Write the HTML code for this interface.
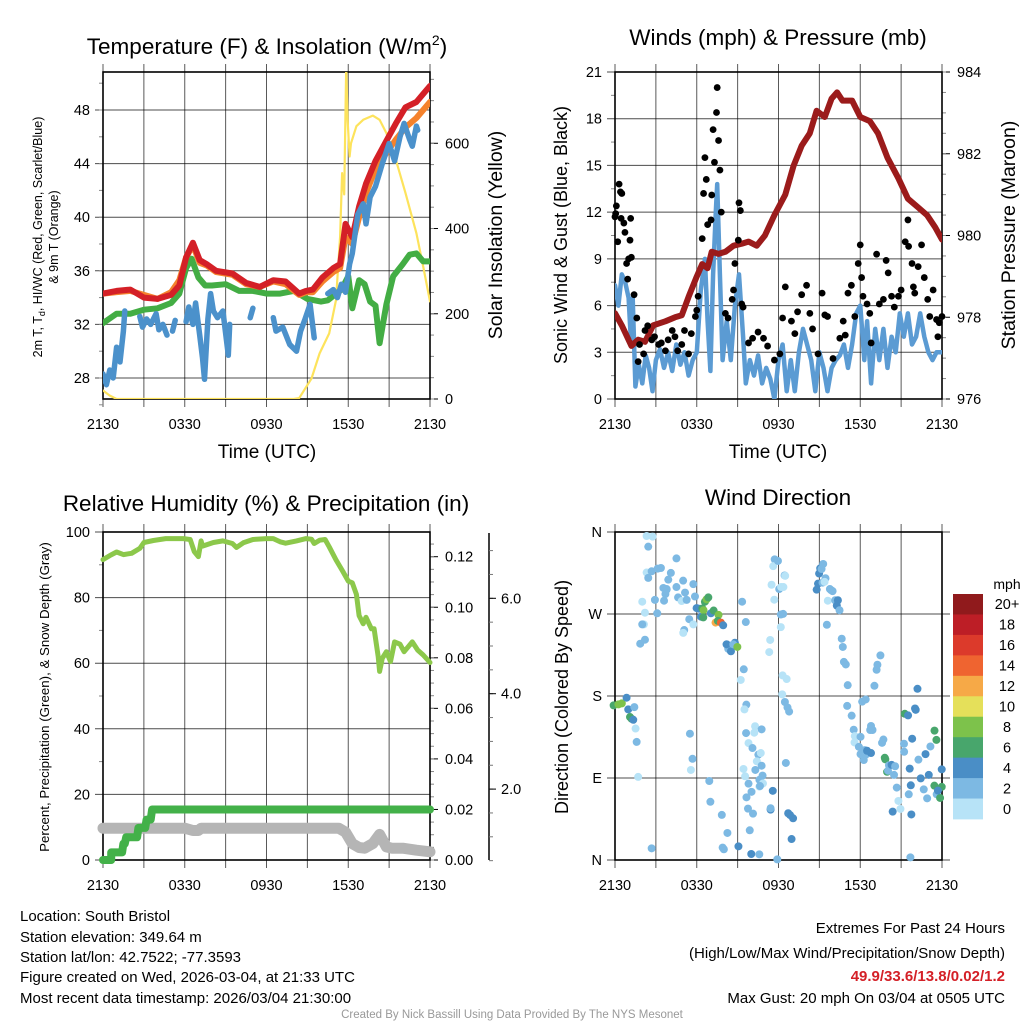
<!DOCTYPE html>
<html><head><meta charset="utf-8"><title>Mesonet Station Chart</title>
<style>
html,body{margin:0;padding:0;background:#fff;}
svg{display:block;font-family:"Liberation Sans",Arial,sans-serif;}
</style></head>
<body>
<svg id="chart" width="1024" height="1024" viewBox="0 0 1024 1024" xmlns="http://www.w3.org/2000/svg">
<rect width="1024" height="1024" fill="#fff"/>
<text x="267" y="54" font-size="22.5" text-anchor="middle">Temperature (F) &amp; Insolation (W/m<tspan dy="-9" font-size="14">2</tspan><tspan dy="9">)</tspan></text>
<text x="778" y="45" font-size="22.5" text-anchor="middle">Winds (mph) &amp; Pressure (mb)</text>
<text x="266" y="511" font-size="22.5" text-anchor="middle">Relative Humidity (%) &amp; Precipitation (in)</text>
<text x="778" y="505" font-size="22.5" text-anchor="middle">Wind Direction</text>
<text x="267" y="458" font-size="19" text-anchor="middle">Time (UTC)</text>
<text x="778" y="458" font-size="19" text-anchor="middle">Time (UTC)</text>
<text transform="translate(42,237) rotate(-90)" font-size="12.5" text-anchor="middle">2m T, T<tspan font-size="9" dy="3">d</tspan><tspan dy="-3">, HI/WC (Red, Green, Scarlet/Blue)</tspan></text>
<text transform="translate(58,237) rotate(-90)" font-size="12.5" text-anchor="middle">&amp; 9m T (Orange)</text>
<text transform="translate(502,235) rotate(-90)" font-size="19.5" text-anchor="middle">Solar Insolation (Yellow)</text>
<text transform="translate(567,235) rotate(-90)" font-size="18" text-anchor="middle">Sonic Wind &amp; Gust (Blue, Black)</text>
<text transform="translate(1015,235) rotate(-90)" font-size="19.5" text-anchor="middle">Station Pressure (Maroon)</text>
<text transform="translate(49,697) rotate(-90)" font-size="13.3" text-anchor="middle">Percent, Precipitation (Green), &amp; Snow Depth (Gray)</text>
<text transform="translate(568,697) rotate(-90)" font-size="18" text-anchor="middle">Direction (Colored By Speed)</text>
<text x="1007" y="589" font-size="14" text-anchor="middle">mph</text>
<g font-size="15">
<text x="20" y="921">Location: South Bristol</text>
<text x="20" y="942">Station elevation: 349.64 m</text>
<text x="20" y="962">Station lat/lon: 42.7522; -77.3593</text>
<text x="20" y="982">Figure created on Wed, 2026-03-04, at 21:33 UTC</text>
<text x="20" y="1003">Most recent data timestamp: 2026/03/04 21:30:00</text>
</g>
<g font-size="15" text-anchor="end">
<text x="1005" y="933">Extremes For Past 24 Hours</text>
<text x="1005" y="958">(High/Low/Max Wind/Precipitation/Snow Depth)</text>
<text x="1005" y="981" fill="#d42027" font-weight="bold">49.9/33.6/13.8/0.02/1.2</text>
<text x="1005" y="1003">Max Gust: 20 mph On 03/04 at 0505 UTC</text>
</g>
<text x="512" y="1018" font-size="11.5" fill="#999" text-anchor="middle">Created By Nick Bassill Using Data Provided By The NYS Mesonet</text>
<g id="layer"></g>
</svg>
<script>
// ---- data ----
const timeTickLabels = ["2130","0330","0930","1530","2130"];
const tempTicks = [28,32,36,40,44,48];
const solarTicks = [0,200,400,600];
const windTicks = [0,3,6,9,12,15,18,21];
const pressTicks = [976,978,980,982,984];
const rhTicks = [0,20,40,60,80,100];
const precipTicks = [0,0.02,0.04,0.06,0.08,0.10,0.12];
const precipTickLabels = ["0.00","0.02","0.04","0.06","0.08","0.10","0.12"];
const snowTicks = [2,4,6];
const snowTickLabels = ["2.0","4.0","6.0"];
const dirTicks = [0,90,180,270,360];
const dirTickLabels = ["N","E","S","W","N"];
const speedBins = [0,2,4,6,8,10,12,14,16,18,20];
const speedBinLabels = ["0","2","4","6","8","10","12","14","16","18","20+"];
const speedColors = ["#b7e3f7","#7db9e3","#4a8ec6","#48a66c","#7dc24b","#e5e05a","#f6a947","#ef6430","#dc3a2b","#bd1e26","#901a1c"];

const tempHours = [0,1,2,3,4,5,5.6,6.1,6.6,7.1,7.6,8.3,9.5,10.5,11.5,12.5,13.4,14.4,14.9,15.4,16.1,16.9,17.4,17.8,18.3,18.8,19.3,20,20.8,21.5,22.2,23,23.5,24];
const temp2m = [34.3,34.5,34.6,34.0,33.9,34.2,34.9,37.0,38.1,36.8,36.5,36.0,35.8,35.1,34.8,35.3,35.2,34.3,34.5,34.6,35.5,36.2,36.5,39.5,38.5,40.8,42.5,44.2,45.7,47.0,48.2,48.6,49.2,49.8];
const temp9m = [34.3,34.4,34.5,34.2,33.9,34.4,35.3,37.0,37.9,36.6,36.4,35.9,35.7,35.0,34.8,35.2,35.0,34.2,34.4,34.4,35.2,35.9,36.2,38.5,38.0,40.0,41.8,43.6,44.8,45.8,46.7,47.4,48.0,48.6];
const hiwcHours = [0,1,2,3,4,5,5.6,6.1,6.5,7,7.5,8,9,10,11,12,13,14,15,16,16.5,17,17.5,18,18.3,18.8,19.2,19.6,20,20.3,20.8,21.3,22,22.5,23,23.5,24];
const hiwc = [32.1,32.8,32.8,33.1,33.2,33.6,34.3,36.2,36.9,35.5,34.9,34.9,35.0,34.5,34.5,34.3,34.3,34.5,33.9,33.7,33.8,34.2,34.6,35.6,33.2,35.3,35.0,33.7,33.4,30.6,33.5,35.6,36.5,37.2,37.3,36.7,36.7];
const dewHours = [0,0.25,0.5,0.75,1,1.25,1.5,1.6,2.0,2.7,2.9,3.2,3.5,3.9,4.1,4.4,4.7,4.8,5.1,5.3,5.6,6.1,6.3,6.6,6.8,7.1,7.3,7.45,7.7,7.9,8.1,8.4,8.8,9.2,9.3,9.5,10.8,11.0,11.2,12.5,12.7,13.2,13.7,14.2,14.5,14.8,15.2,15.5,15.7,16.5,16.9,17.2,17.5,17.8,18.1,18.3,18.7,19.1,19.3,19.6,20,20.5,21,21.4,21.8,22.1,22.5,22.7,23.0,23.1];
const dewPoint = [28.3,27.5,28.6,28.0,30.3,29.2,31.5,33.0,null,32.6,31.8,32.4,32.0,32.8,31.6,32.0,31.2,null,31.5,32.3,null,32.2,33.3,32.0,33.6,31.2,29.5,27.9,32.4,34.3,33.0,32.5,33.0,29.7,32.0,null,32.5,33.2,null,32.5,31.5,31.8,30.5,30.0,31.5,32.3,33.5,31.0,null,34.3,34.6,34.0,35.0,34.4,36.5,37.3,40.2,41.0,39.5,41.5,42.3,44.0,45.5,44.2,46.0,47.0,45.8,45.3,46.8,46.5];
const solarHours = [0,0.5,1,2,6,10,14,14.4,15.3,15.9,16.6,17.1,17.4,17.55,17.7,17.85,17.95,18.1,18.2,18.6,19.1,19.8,20.3,20.8,21.5,22.2,23,23.5,24];
const solar = [20,8,0,0,0,0,0,2,48,107,154,232,381,530,480,780,655,569,600,640,655,665,655,624,561,483,389,311,229];

const pressHours = [0,0.5,1.2,1.7,2.2,2.8,3.7,4.4,4.9,5.4,6,6.4,6.8,7.1,7.6,8.1,8.7,9.3,9.8,10.4,11,11.7,12.5,13.1,13.7,14.3,14.8,15.4,15.9,16.3,16.7,17.4,18,18.7,19.3,20,20.8,21.5,22.2,22.9,23.5,24];
const pressure = [978.1,977.8,977.3,977.45,977.4,977.8,977.9,978.0,978.05,978.5,979.0,979.3,979.2,979.6,979.55,979.6,979.75,979.8,979.85,979.75,980.0,980.5,981.0,981.7,982.2,982.5,983.05,982.9,983.35,983.5,983.3,983.3,982.9,982.8,982.5,981.9,981.4,980.9,980.7,980.5,980.2,979.9];
const windHours = [0,0.25,0.5,0.75,1,1.15,1.3,1.5,1.75,2,2.25,2.5,2.75,3,3.3,3.6,3.9,4.2,4.5,4.8,5.1,5.4,5.7,6,6.3,6.6,6.8,7,7.2,7.4,7.5,7.7,7.9,8.2,8.5,8.8,9.1,9.4,9.6,9.9,10.2,10.5,10.8,11.1,11.4,11.7,12,12.3,12.6,12.9,13.2,13.5,13.8,14.1,14.4,14.7,15,15.3,15.6,15.9,16.2,16.5,16.8,17.1,17.4,17.7,18,18.3,18.5,18.8,19.1,19.4,19.7,20,20.3,20.6,20.9,21.2,21.5,21.8,22.1,22.4,22.7,23,23.3,23.6,24];
const windSpeed = [7.3,6,8,7.5,6.5,4,6.5,0.8,2.2,1.0,2.8,2.0,0.5,2.5,3.2,2.0,3.0,1.8,3.5,2.2,3.0,1.5,2.5,3,7,9,5,1.8,8,12,13.8,8,2.5,5,2.5,6,8,4,1,2.5,1.5,2.8,1,2,1.3,0,2.5,3.5,0.5,2.5,0.5,3,4.5,3.5,2.5,0.5,3,2,0.5,2,2.5,2.8,3.5,2,3.5,5.5,6,2.5,5,1,4.5,2.5,4.5,2,4,3,5.5,4,5.5,3.5,4,5.5,4,3,2.5,3,3];
const gustHours = [0,0.05,0.1,0.2,0.3,0.4,0.5,0.45,0.65,0.73,1.1,1.15,1.0,0.85,0.93,1.2,1.4,1.6,1.7,1.8,2.1,2.2,2.4,2.7,2.9,3.2,3.4,3.7,3.9,4.2,4.4,4.6,4.9,5.1,5.4,5.6,5.9,6,6.1,6.4,6.5,6.6,6.7,6.8,7.05,7.1,7.2,7.3,7.45,7.5,7.6,7.7,7.8,8.1,8.3,8.6,8.7,8.8,9.05,9.1,9.2,9.3,9.4,9.8,10.1,10.5,10.9,11.2,11.7,12.1,12.3,12.5,12.95,13.2,13.4,13.7,14.06,14.3,14.5,14.9,15.2,15.4,15.6,16,16.5,16.75,16.9,17.1,17.35,17.6,17.85,18,18.1,18.2,18.5,18.7,18.8,19.2,19.4,19.7,19.9,20.05,20.3,20.5,20.8,21,21.3,21.5,21.55,21.8,21.9,22,22.25,22.5,22.7,22.95,23.1,23.35,23.6,23.7,23.8,24];
const gust = [11.7,11.9,12.4,10.1,13.8,13.3,13.2,11.6,11.3,10.7,10.2,11.6,9.0,8.7,7.7,9.1,6.7,5.2,2.4,3.5,2.9,4.4,4.7,3.8,4.0,3.5,3.6,3.1,3.8,4.4,4.0,3.1,3.5,4.4,2.9,4.2,5.3,5.7,6.6,10.3,13.2,15.5,14.1,11.2,11.5,13.1,17.3,15.2,18.4,20.0,16.6,14.7,12.0,5.5,5.2,6.4,7.0,8.7,10.2,12.6,12.1,6.1,5.9,3.6,3.9,4.3,3.9,3.4,2.5,2.9,5.2,7.2,5.0,4.2,5.6,6.7,7.3,5.5,4.5,2.9,6.8,5.4,5.3,2.6,3.9,5.0,4.1,6.8,7.3,5.3,8.7,9.9,7.8,6.6,6.1,5.5,3.6,9.3,6.1,6.4,8.9,8.1,6.6,5.9,6.6,7.0,10.1,11.5,9.8,8.7,7.2,6.8,8.5,9.9,7.8,6.4,5.3,7.0,5.1,4.0,4.9,5.3];

const rhHours = [0,0.5,1,1.5,2.1,2.7,3,3.7,4.6,5.9,6.4,6.7,7,7.2,7.3,8.1,8.8,9.5,9.8,10.3,11,12,12.5,13,13.4,14.2,14.9,15.3,15.5,15.9,16.3,16.6,17.1,17.6,18,18.3,18.6,18.8,19.1,19.3,19.7,19.9,20.2,20.3,20.5,20.8,21.1,21.4,21.8,22.1,22.4,22.7,23.1,23.5,24];
const rh = [91.6,92.8,93.9,93.1,93.5,95,96.8,97.4,98,98,97.7,94,92.5,97.3,95.7,96.8,97.3,96.5,95.3,96.7,97.7,98,98,97,96.6,97.3,98,97.8,96.5,97.5,97.7,95.5,91.5,88,85,84.5,81,74.5,72,74,70.5,70.5,62,57.5,61.5,63.5,60.5,66.5,65.8,63.5,65,66.5,64,62.5,60.2];
const precipHours = [0,0.6,0.6,1.4,1.5,1.6,1.7,2.5,2.6,3.1,3.2,3.5,3.6,24];
const precip = [0,0,0.003,0.003,0.0065,0.0065,0.009,0.009,0.0127,0.0127,0.016,0.016,0.02,0.02];
const snowHours = [0,6,6.6,7,7.2,17.3,17.8,18.3,18.8,19.2,19.8,20.3,20.8,21.2,22,23,24];
const snowPct = [9.7,9.7,9.0,9.0,9.7,9.7,8.5,5.0,3.8,3.6,5.0,7.8,4.0,3.6,3.6,3.0,2.5];

// wind direction points: hour, degrees, speed (mph)
const dirHours = [-0.1,0.25,0.5,0.85,0.97,1.1,1.22,1.34,1.42,1.7,1.51,1.59,2.69,2.32,2.44,2.76,2.32,2.44,2.69,3.13,3.37,2.0,2.2,2.12,2.93,3.1,3.55,3.79,3.91,4.1,3.79,4.51,4.63,4.51,3.6,3.7,4.89,5.0,5.14,5.26,5.75,5.87,2.0,2.2,1.85,5.08,5.01,5.45,5.75,5.99,6.17,6.31,6.41,6.5,6.48,6.6,6.72,6.85,7.04,7.24,7.38,7.6,7.55,7.77,7.94,8.2,8.31,8.5,8.19,8.51,8.8,8.68,8.98,5.5,5.69,5.57,6.92,7.0,7.84,7.9,7.99,8.25,9.06,10.0,9.33,9.6,9.45,9.23,9.64,9.5,9.62,9.8,10.3,9.43,9.55,9.8,9.65,9.76,10.13,9.89,10.59,10.28,10.22,10.76,10.09,10.52,10.41,10.7,10.76,10.83,10.6,10.02,10.6,10.86,10.64,11.42,11.58,11.42,11.91,11.72,11.61,12.45,11.96,12.05,12.49,12.19,12.36,11.49,11.69,12.17,12.34,12.17,11.39,11.32,12.3,12.6,12.27,12.47,12.66,12.78,12.54,12.71,12.85,12.96,13.07,14.8,14.9,14.98,15.06,15.16,15.28,15.23,15.45,15.38,15.62,15.55,15.77,15.86,15.97,16.16,16.36,16.28,16.48,16.64,16.72,16.8,16.94,17.08,17.04,17.37,17.52,17.6,17.58,17.9,18.02,18.14,18.02,18.33,18.26,18.41,18.5,18.79,18.9,18.73,18.79,18.4,19.04,19.2,19.26,19.48,19.7,19.6,19.8,19.84,19.97,20.04,20.11,20.3,20.38,20.48,20.56,20.68,20.8,20.95,21.22,21.21,21.27,21.51,21.63,21.71,21.56,21.75,21.68,21.81,22.02,22.07,22.2,22.27,22.44,22.66,22.91,23.03,22.79,23.15,23.45,23.59,23.44,23.61,23.86,23.98,23.7,23.98];
const dirDeg = [169.7,170.8,171.9,178.1,165.3,156.9,155.0,153.9,167.8,91.2,144.3,129.6,12.8,355.6,343.9,354.9,315.5,309.6,316.9,319.8,320.5,283.5,271.4,258.6,285.5,270.8,298.6,296.7,307.7,315.1,297.4,299.6,288.2,331.0,284.6,291.9,284.2,306.6,293.5,285.5,302.8,289.2,258.6,241.8,237.4,252.4,249.3,264.3,258.6,276.5,275.8,267.0,276.1,274.1,266.3,283.5,286.1,288.2,270.8,273.8,260.6,269.0,262.4,260.6,257.6,236.7,231.8,229.3,236.7,229.1,238.5,236.7,233.8,138.6,111.1,98.8,86.7,63.9,49.5,13.6,11.8,29.7,15.0,6.6,283.5,261.2,209.3,197.6,170.5,165.3,139.3,128.3,98.8,99.9,91.9,83.8,68.8,56.4,50.9,32.6,6.2,146.8,139.7,143.4,122.9,115.6,108.3,117.4,103.5,92.6,80.6,74.8,88.0,84.0,81.2,55.3,75.9,56.8,0.7,330.0,322.5,312.3,328.2,297.4,311.9,299.6,299.6,302.1,285.7,269.4,270.1,255.6,241.5,228.2,202.6,198.6,181.8,173.4,167.4,162.9,106.5,51.3,49.3,23.0,45.8,296.7,303.3,314.4,320.1,319.4,324.9,304.4,309.3,305.3,284.6,258.2,297.4,296.2,295.1,285.1,285.1,279.2,274.1,242.9,233.8,217.4,214.6,191.9,169.1,158.4,143.0,136.0,129.0,124.2,116.2,173.8,135.2,120.6,109.7,115.6,119.9,117.4,142.7,142.7,147.1,176.2,191.2,208.8,214.3,224.6,132.2,128.6,112.2,110.5,96.8,98.0,103.9,104.4,53.1,93.4,102.9,79.5,64.8,56.0,118.8,127.6,160.5,158.7,100.3,82.0,72.1,50.0,2.9,133.1,166.3,164.8,187.9,110.1,89.6,77.5,67.7,93.4,116.2,124.6,142.0,131.8,81.6,72.1,68.1,80.3,76.2,99.5,79.8,62.6,93.4,92.2,96.8,90.1,90.1,91.9,86.3,81.2,84.3,89.2,79.8,80.6,73.6,84.0,89.6,91.2,86.7,102.9,133.1,126.9];
const dirSpeed = [7,9,9,5,5,7,7,5,3,1,1,3,3,1,3,1,1,3,3,3,3,1,1,1,3,3,3,3,3,3,3,3,3,3,3,3,1,3,3,3,3,3,3,3,3,3,1,3,1,5,5,5,7,9,7,7,9,7,5,7,13,9,7,15,5,5,3,3,5,5,5,3,9,3,3,1,3,3,3,3,3,3,5,5,3,3,3,1,3,1,3,1,3,1,1,3,3,3,3,3,3,1,1,3,3,3,1,1,3,3,1,3,3,1,3,5,5,3,3,3,1,3,3,3,1,1,1,1,1,3,3,1,1,1,1,1,1,3,3,3,3,5,5,5,5,5,5,5,5,3,3,3,3,1,1,3,3,3,3,3,5,5,3,3,3,3,3,3,3,3,3,1,1,3,3,3,3,3,3,3,5,5,3,3,3,3,3,3,3,3,3,3,7,7,7,3,3,5,5,3,3,3,1,1,3,3,7,5,5,5,3,5,3,5,5,5,5,3,5,3,3,5,5,3,7,7,7,3,7,7,5,5,5,5,5,5,5,5,7,5,5,7,3,5,3,3,3,3,3,3,3];

// ---- geometry ----
const NS = "http://www.w3.org/2000/svg";
const layer = document.getElementById("layer");
function el(tag, attrs, parent) {
  const e = document.createElementNS(NS, tag);
  for (const k in attrs) e.setAttribute(k, attrs[k]);
  (parent || layer).appendChild(e);
  return e;
}
const P1 = {x0:103, x1:430, y0:72, y1:399};
const P2 = {x0:615, x1:942, y0:72, y1:399};
const P3 = {x0:103, x1:430, y0:532, y1:860};
const P4 = {x0:615, x1:942, y0:532, y1:860};
function xT(p, h) { return p.x0 + h / 24 * (p.x1 - p.x0); }
const yTemp = v => 378 - (v - 28) * 13.4;
const ySolar = w => 399 - w * 0.4262;
const yWind = v => 399 - v * 327 / 21;
const yPress = v => 399 - (v - 976) * 327 / 8;
const yRH = v => 860 - v * 3.28;
const yPrecip = v => 860 - v * 303.3 / 0.12;
const ySnow = v => 884.5 - v * 47.7;
const yDir = d => 860 - d / 360 * 328;

function clipFor(p, id) {
  const defs = el("defs", {});
  const cp = el("clipPath", {id: id}, defs);
  el("rect", {x: p.x0, y: p.y0, width: p.x1 - p.x0, height: p.y1 - p.y0}, cp);
}

function frame(p, name, leftTicks, leftFn, leftLabels, rightTicks, rightFn, rightLabels, minorL, minorR, gridExt) {
  const g = el("g", {});
  
  
  for (let h = 0; h <= 24; h += 3) {
    const x = xT(p, h);
    const gl = el("line", {x1: x, x2: x, y1: p.y0 - 8, y2: p.y1 + 8, stroke: "#000", "stroke-width": 1, "stroke-opacity": 0.65}, g);
    
    
  }
  timeTickLabels.forEach((lab, i) => {
    const t = el("text", {x: xT(p, i * 6), y: p.y1 + 30, "font-size": 14.5, "text-anchor": "middle"}, g);
    t.textContent = lab;
    
    
  });
  leftTicks.forEach((v, i) => {
    const y = leftFn(v);
    const gl = el("line", {x1: p.x0 - 8, x2: p.x1 + (gridExt || 0), y1: y, y2: y, stroke: "#000", "stroke-width": 1, "stroke-opacity": 0.7}, g);
    
    
    const t = el("text", {x: p.x0 - 13, y: y + 5, "font-size": 14.5, "text-anchor": "end"}, g);
    t.textContent = leftLabels[i];
    
    
  });
  (minorL || []).forEach(v => {
    const y = leftFn(v);
    el("line", {x1: p.x0 - 4, x2: p.x0, y1: y, y2: y, stroke: "#888", "stroke-width": 1}, g);
  });
  if (rightTicks) {
    rightTicks.forEach((v, i) => {
      const y = rightFn(v);
      el("line", {x1: p.x1, x2: p.x1 + 8, y1: y, y2: y, stroke: "#000", "stroke-width": 1}, g);
      const t = el("text", {x: p.x1 + 15, y: y + 5, "font-size": 14.5}, g);
      t.textContent = rightLabels[i];
      
      
    });
    (minorR || []).forEach(v => {
      const y = rightFn(v);
      el("line", {x1: p.x1, x2: p.x1 + 4, y1: y, y2: y, stroke: "#888", "stroke-width": 1}, g);
    });
  }
  const fr = el("rect", {x: p.x0, y: p.y0, width: p.x1 - p.x0, height: p.y1 - p.y0, fill: "none", stroke: "#000", "stroke-width": 1.6}, g);
  
  
}

function seq(a, b, s) { const r = []; for (let v = a; v <= b + 1e-9; v += s) r.push(+v.toFixed(4)); return r; }

function linePath(hours, vals, p, yFn) {
  let d = "", pen = false;
  for (let i = 0; i < hours.length; i++) {
    if (vals[i] === null) { pen = false; continue; }
    d += (pen ? "L" : "M") + xT(p, hours[i]).toFixed(1) + "," + yFn(vals[i]).toFixed(1);
    pen = true;
  }
  return d;
}

// ---- Panel 1 ----
clipFor(P1, "c1");
frame(P1, "temp", tempTicks, yTemp, tempTicks.map(String), solarTicks, ySolar, solarTicks.map(String), seq(26, 50, 2), seq(0, 750, 50));
const g1 = el("g", {"clip-path": "url(#c1)", fill: "none", "stroke-linejoin": "round", "stroke-linecap": "round"});
const solarLine = el("path", {d: linePath(solarHours, solar, P1, ySolar), stroke: "#fde35c", "stroke-width": 2.2}, g1);


const hiwcLine = el("path", {d: linePath(hiwcHours, hiwc, P1, yTemp), stroke: "#43ad44", "stroke-width": 6}, g1);


const orangeLine = el("path", {d: linePath(tempHours, temp9m, P1, yTemp), stroke: "#f5822c", "stroke-width": 6}, g1);


const redLine = el("path", {d: linePath(tempHours, temp2m, P1, yTemp), stroke: "#d42027", "stroke-width": 6}, g1);


const dewLine = el("path", {d: linePath(dewHours, dewPoint, P1, yTemp), stroke: "#4b91cb", "stroke-width": 5.5}, g1);



// ---- Panel 2 ----
clipFor(P2, "c2");
frame(P2, "wind", windTicks, yWind, windTicks.map(String), pressTicks, yPress, pressTicks.map(String), seq(1.5, 19.5, 3), seq(976, 984, 0.5));
const g2 = el("g", {"clip-path": "url(#c2)", fill: "none", "stroke-linejoin": "round", "stroke-linecap": "round"});
const windLine = el("path", {d: linePath(windHours, windSpeed, P2, yWind), stroke: "#5b9bd3", "stroke-width": 4.5}, g2);


const gustG = el("g", {});


gustHours.forEach((h, i) => {
  const c = el("circle", {cx: xT(P2, h), cy: yWind(gust[i]), r: 3.4, fill: "#000"}, gustG);
  
  
});
const pressLine = el("path", {d: linePath(pressHours, pressure, P2, yPress), stroke: "#9b1b1b", "stroke-width": 6}, g2);



// ---- Panel 3 ----
clipFor(P3, "c3");
frame(P3, "rh", rhTicks, yRH, rhTicks.map(String), precipTicks, yPrecip, precipTickLabels, seq(10, 90, 20), seq(0, 0.125, 0.005));
const snowAxis = el("line", {x1: 489, x2: 489, y1: 533, y2: 860, stroke: "#000", "stroke-width": 1.5});


seq(0.5, 7, 0.5).forEach(v => { el("line", {x1: 489, x2: 493, y1: ySnow(v), y2: ySnow(v), stroke: "#777", "stroke-width": 1}); });
snowTicks.forEach((v, i) => {
  el("line", {x1: 489, x2: 496, y1: ySnow(v), y2: ySnow(v), stroke: "#000", "stroke-width": 1});
  const t = el("text", {x: 501, y: ySnow(v) + 5, "font-size": 14.5});
  t.textContent = snowTickLabels[i];
  
  
});
const g3 = el("g", {fill: "none", "stroke-linejoin": "round", "stroke-linecap": "round"});
const snowLine = el("path", {d: linePath(snowHours, snowPct, P3, yRH), stroke: "#b5b5b5", "stroke-width": 11}, g3);


const precipLine = el("path", {d: linePath(precipHours, precip, P3, yPrecip), stroke: "#43b149", "stroke-width": 8}, g3);


const rhLine = el("path", {d: linePath(rhHours, rh, P3, yRH), stroke: "#8cc84b", "stroke-width": 5}, g3);



// ---- Panel 4 ----
frame(P4, "dir", dirTicks, yDir, dirTickLabels, null, null, null, [], [], 8);
const g4 = el("g", {});


function colorFor(s) { let k = Math.floor(s / 2); if (k > 10) k = 10; if (k < 0) k = 0; return speedColors[k]; }
dirHours.forEach((h, i) => {
  const c = el("circle", {cx: xT(P4, Math.max(h, -0.2)), cy: yDir(dirDeg[i]), r: 4, fill: colorFor(dirSpeed[i])}, g4);
  
  
});
const cb = el("g", {});


const cbTop = 594, cbH = 225 / 11;
speedBins.forEach((b, i) => {
  const k = 10 - i;
  const r = el("rect", {x: 953, y: cbTop + i * cbH, width: 30, height: cbH + 0.4, fill: speedColors[k]}, cb);
  
  
  const t = el("text", {x: 1007, y: cbTop + i * cbH + cbH / 2 + 5, "font-size": 14.5, "text-anchor": "middle"}, cb);
  t.textContent = speedBinLabels[k];
  
  
});
</script>
</body></html>
